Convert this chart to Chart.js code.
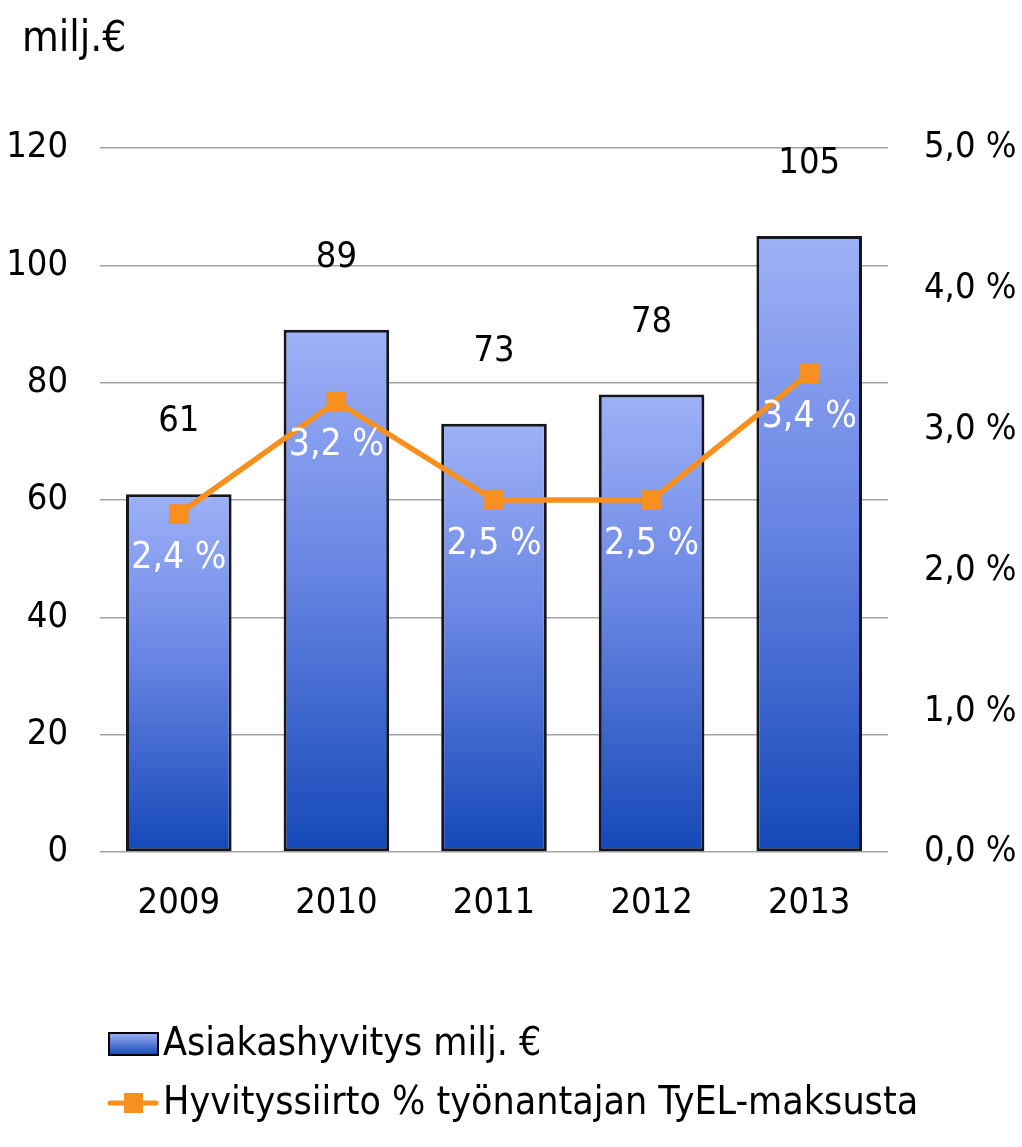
<!DOCTYPE html>
<html>
<head>
<meta charset="utf-8">
<script src="https://cdn.jsdelivr.net/npm/chart.js@4.4.0/dist/chart.umd.min.js"></script>
<style>
  html, body { margin: 0; padding: 0; background: #fff; }
  #wrap { width: 1022px; height: 1147px; }
</style>
</head>
<body>
<div id="wrap"><canvas id="chart" width="1022" height="1147"></canvas></div>
<script>
// data
const years = ['2009', '2010', '2011', '2012', '2013'];
const hyvitys = [61, 89, 73, 78, 105];          // milj. €
const siirtoPct = [2.4, 3.2, 2.5, 2.5, 3.4];    // % of TyEL payment
const leftTicks = [0, 20, 40, 60, 80, 100, 120];
const rightTicks = [0, 1, 2, 3, 4, 5];

const FONT = '"DejaVu Sans Condensed", "DejaVu Sans", sans-serif';
const ORANGE = '#f7901e';

const fmtPct = v => v.toFixed(1).replace('.', ',') + ' %';

// one gradient per bar, light on top and dark at the base
function barGradient(ctx) {
    const chart = ctx.chart;
    const area = chart.chartArea;
    if (!area || ctx.dataIndex === undefined) return '#6f89e6';
    const top = chart.scales.y.getPixelForValue(hyvitys[ctx.dataIndex]);
    const g = chart.ctx.createLinearGradient(0, top, 0, area.bottom);
    g.addColorStop(0, '#9db1f7');
    g.addColorStop(0.45, '#6a86e4');
    g.addColorStop(1, '#1448b8');
    return g;
}

// value labels, unit caption and legend
const extras = {
    id: 'extras',
    afterDatasetsDraw(chart) {
        const c = chart.ctx;
        c.save();
        c.font = '36px ' + FONT;
        c.textAlign = 'center';
        c.textBaseline = 'middle';

        // dataset 0 is the line, dataset 1 the bars
        c.fillStyle = '#000';
        chart.getDatasetMeta(1).data.forEach((bar, i) => {
            c.fillText(String(hyvitys[i]), bar.x, bar.y - 72);
        });

        c.font = '37px ' + FONT;
        c.fillStyle = '#fff';
        chart.getDatasetMeta(0).data.forEach((pt, i) => {
            c.fillText(fmtPct(siirtoPct[i]), pt.x, pt.y + 44);
        });

        // unit caption
        c.font = '42px ' + FONT;
        c.fillStyle = '#000';
        c.textAlign = 'left';
        c.fillText('milj.€', 22, 40);

        // legend
        const g = c.createLinearGradient(0, 1033, 0, 1055);
        g.addColorStop(0, '#9db1f7');
        g.addColorStop(1, '#1448b8');
        c.fillStyle = g;
        c.fillRect(109, 1033, 49, 22);
        c.strokeStyle = '#000';
        c.lineWidth = 2;
        c.strokeRect(109, 1033, 49, 22);
        c.fillStyle = '#000';
        c.font = '39px ' + FONT;
        c.fillText('Asiakashyvitys milj. €', 163, 1045);

        c.strokeStyle = ORANGE;
        c.lineWidth = 5;
        c.lineCap = 'round';
        c.beginPath();
        c.moveTo(110, 1103);
        c.lineTo(156, 1103);
        c.stroke();
        c.fillStyle = ORANGE;
        c.fillRect(124, 1093, 19, 20);
        c.fillStyle = '#000';
        c.fillText('Hyvityssiirto % työnantajan TyEL-maksusta', 163, 1104);
        c.restore();
    }
};

new Chart(document.getElementById('chart'), {
    data: {
        labels: years,
        datasets: [
            {
                type: 'line',
                label: 'Hyvityssiirto % työnantajan TyEL-maksusta',
                data: siirtoPct,
                yAxisID: 'y1',
                borderColor: ORANGE,
                backgroundColor: ORANGE,
                borderWidth: 5.5,
                pointStyle: 'rect',
                pointRadius: 10,
                pointHoverRadius: 10,
                tension: 0,
                order: 0
            },
            {
                type: 'bar',
                label: 'Asiakashyvitys milj. €',
                data: hyvitys,
                yAxisID: 'y',
                backgroundColor: barGradient,
                borderColor: '#15151f',
                borderWidth: 3,
                borderSkipped: false,
                categoryPercentage: 1,
                barPercentage: 0.67,
                order: 1
            }
        ]
    },
    options: {
        responsive: false,
        animation: false,
        events: [],
        layout: { padding: { top: 148, left: 0, right: 0, bottom: 0 } },
        plugins: {
            legend: { display: false },
            tooltip: { enabled: false },
            title: { display: false }
        },
        scales: {
            x: {
                grid: { display: false, drawTicks: false },
                border: { display: false },
                ticks: { color: '#000', font: { family: FONT, size: 36 }, padding: 30 },
                afterFit: s => { s.height = 295; }
            },
            y: {
                position: 'left',
                min: 0,
                max: 120,
                afterBuildTicks: s => { s.ticks = leftTicks.map(v => ({ value: v })); },
                grid: { color: '#a3a3a3', lineWidth: 1.5, drawTicks: false },
                border: { display: false },
                ticks: { color: '#000', font: { family: FONT, size: 36 }, padding: 32 },
                afterFit: s => { s.width = 100; }
            },
            y1: {
                position: 'right',
                min: 0,
                max: 5,
                afterBuildTicks: s => { s.ticks = rightTicks.map(v => ({ value: v })); },
                grid: { display: false, drawTicks: false },
                border: { display: false },
                ticks: {
                    color: '#000',
                    font: { family: FONT, size: 36 },
                    padding: 36,
                    callback: v => fmtPct(v)
                },
                afterFit: s => { s.width = 134; }
            }
        }
    },
    plugins: [extras]
});
</script>
</body>
</html>
